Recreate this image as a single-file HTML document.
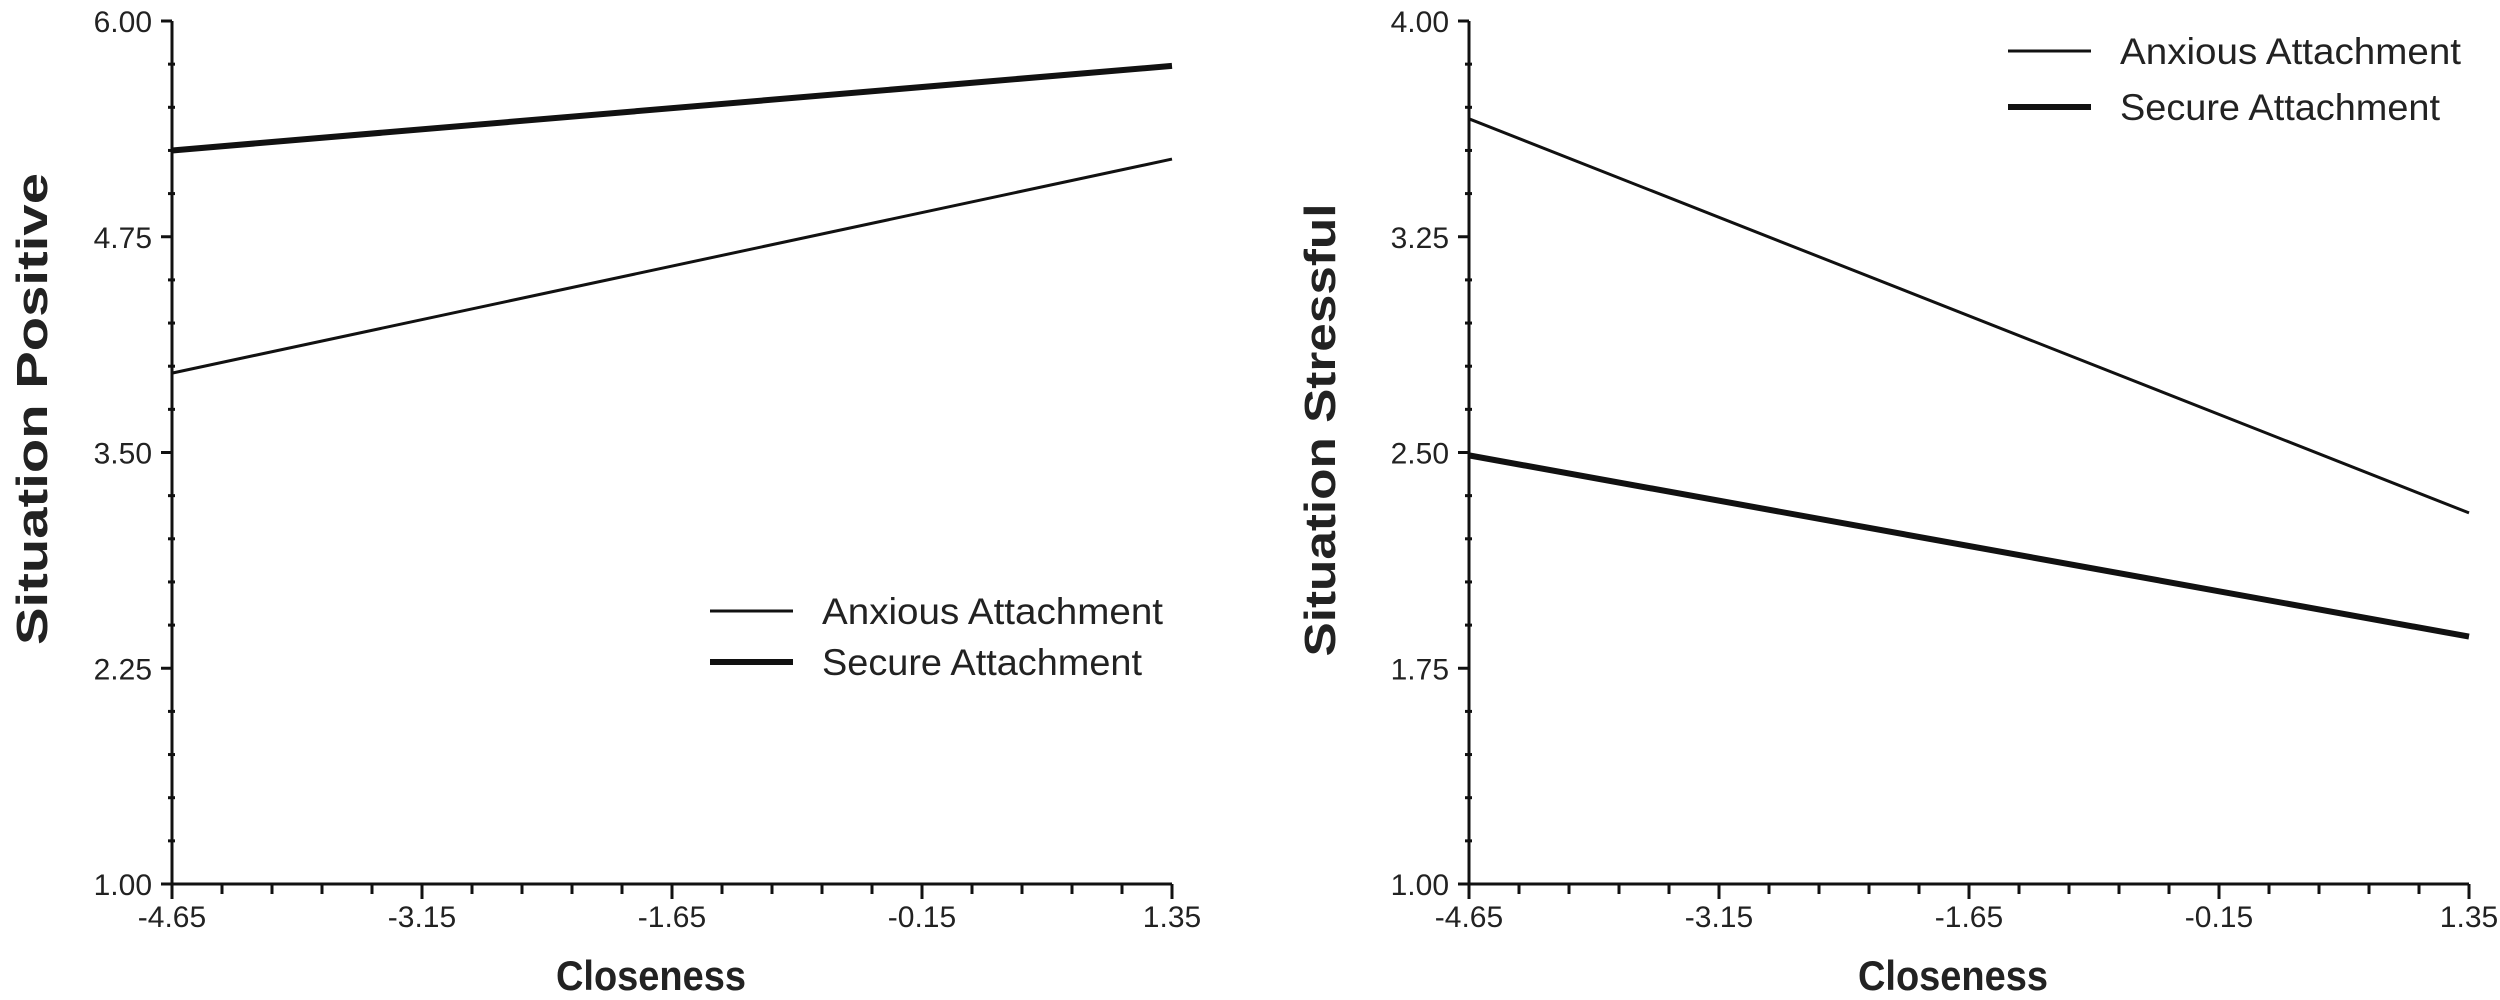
<!DOCTYPE html>
<html><head><meta charset="utf-8"><style>
body{margin:0;background:#fff}
svg{display:block}
text{font-family:"Liberation Sans",Arial,sans-serif;fill:#222}
</style></head><body>
<svg id="chart" width="2500" height="1000" viewBox="0 0 2500 1000"></svg>
<script>
const xTicks=[-4.65,-3.15,-1.65,-0.15,1.35];
const xLabels=["-4.65","-3.15","-1.65","-0.15","1.35"];
const xEnds=[-4.65,1.35];
const seriesNames=["Anxious Attachment","Secure Attachment"];
const leftYTicks=[1.00,2.25,3.50,4.75,6.00];
const leftYLabels=["1.00","2.25","3.50","4.75","6.00"];
const leftAnxious=[3.96,5.20];
const leftSecure=[5.25,5.74];
const rightYTicks=[1.00,1.75,2.50,3.25,4.00];
const rightYLabels=["1.00","1.75","2.50","3.25","4.00"];
const rightAnxious=[3.66,2.29];
const rightSecure=[2.49,1.86];

const svg=document.getElementById('chart');
const NS='http://www.w3.org/2000/svg';
function mk(tag,attrs,parent){const e=document.createElementNS(NS,tag);for(const k in attrs)e.setAttribute(k,attrs[k]);(parent||svg).appendChild(e);return e;}

function panel(cfg){
  const g=mk('g',{});
  
  
  const x0=cfg.x0,x1=cfg.x0+1000,yTop=21,yBot=884;
  const ymin=cfg.yt[0],ymax=cfg.yt[cfg.yt.length-1];
  const sx=v=>x0+(v-xTicks[0])/(xTicks[4]-xTicks[0])*(x1-x0);
  const sy=v=>yBot-(v-ymin)/(ymax-ymin)*(yBot-yTop);
  const ya=mk('line',{x1:x0,y1:yTop,x2:x0,y2:yBot,stroke:'#111','stroke-width':3},g);
  
  
  const xa=mk('line',{x1:x0,y1:yBot,x2:x1,y2:yBot,stroke:'#111','stroke-width':3},g);
  
  
  const ystep=(cfg.yt[1]-cfg.yt[0])/5;
  for(let i=0;i<=20;i++){const v=ymin+i*ystep;const y=sy(v);
    if(i%5===0){mk('line',{x1:x0-11,y1:y,x2:x0,y2:y,stroke:'#111','stroke-width':3},g);}
    else mk('line',{x1:x0-4,y1:y,x2:x0+3,y2:y,stroke:'#111','stroke-width':3},g);}
  cfg.yt.forEach((v,i)=>{const t=mk('text',{x:x0-20,y:sy(v)+11,'text-anchor':'end','font-size':30},g);t.textContent=cfg.yl[i];
    
    });
  const xstep=(xTicks[1]-xTicks[0])/5;
  for(let i=0;i<=20;i++){const x=sx(xTicks[0]+i*xstep);
    mk('line',{x1:x,y1:yBot,x2:x,y2:yBot+(i%5===0?15:10),stroke:'#111','stroke-width':3},g);}
  xTicks.forEach((v,i)=>{const t=mk('text',{x:sx(v),y:927,'text-anchor':'middle','font-size':30},g);t.textContent=xLabels[i];
    
    });
  const xt=mk('text',{x:cfg.xtx,y:990,'text-anchor':'middle','font-size':42,'font-weight':'bold',textLength:190,lengthAdjust:'spacingAndGlyphs'},g);xt.textContent='Closeness';
  
  
  const yt=mk('text',{x:0,y:0,'text-anchor':'middle','font-size':44,'font-weight':'bold',textLength:cfg.tl,lengthAdjust:'spacingAndGlyphs',transform:`translate(${cfg.tx},${cfg.ty}) rotate(-90)`},g);yt.textContent=cfg.title;
  
  
  const a=mk('line',{x1:sx(xEnds[0]),y1:sy(cfg.anx[0]),x2:sx(xEnds[1]),y2:sy(cfg.anx[1]),stroke:'#111','stroke-width':3},g);
  
  
  const s=mk('line',{x1:sx(xEnds[0]),y1:sy(cfg.sec[0]),x2:sx(xEnds[1]),y2:sy(cfg.sec[1]),stroke:'#111','stroke-width':6},g);
  
  
  const lg=mk('g',{},g);
  
  
  [[3,cfg.ly[0],341],[6,cfg.ly[1],320]].forEach((p,i)=>{
    mk('line',{x1:cfg.lx,y1:p[1],x2:cfg.lx+83,y2:p[1],stroke:'#111','stroke-width':p[0]},lg);
    const t=mk('text',{x:cfg.lx+112,y:p[1]+13,'font-size':37,textLength:p[2],lengthAdjust:'spacingAndGlyphs'},lg);t.textContent=seriesNames[i];
    
    
  });
}
panel({name:'left-chart',x0:172,yt:leftYTicks,yl:leftYLabels,anx:leftAnxious,sec:leftSecure,title:'Situation Positive',tx:47,ty:409,tl:472,xtx:651,lx:710,ly:[611,662]});
panel({name:'right-chart',x0:1469,yt:rightYTicks,yl:rightYLabels,anx:rightAnxious,sec:rightSecure,title:'Situation Stressful',tx:1335,ty:430,tl:453,xtx:1953,lx:2008,ly:[51,107]});
</script>
</body></html>
